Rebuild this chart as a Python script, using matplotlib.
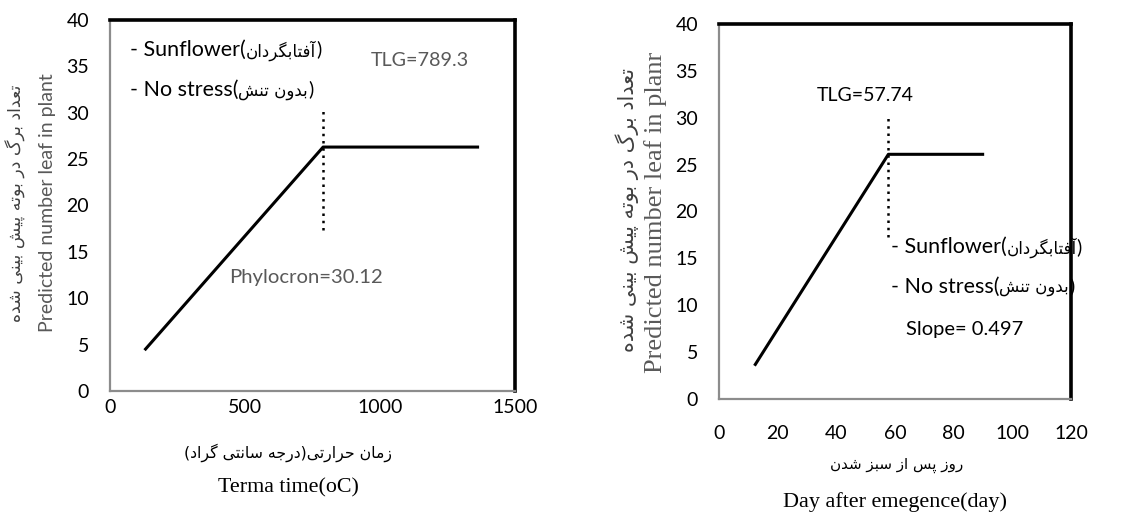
import matplotlib
matplotlib.use("Agg")
import matplotlib.pyplot as plt

# ---------------- data ----------------
thermal_time = [128, 789.3, 1367]
leaves_thermal = [4.4, 26.3, 26.3]
tlg_thermal = 789.3
marker_thermal_y = [17.4, 30.5]

days = [12.1, 57.74, 90.4]
leaves_days = [3.55, 26.1, 26.1]
tlg_days = 57.74
marker_days_y = [17.3, 30.3]

yticks = [0, 5, 10, 15, 20, 25, 30, 35, 40]
xticks_left = [0, 500, 1000, 1500]
xticks_right = [0, 20, 40, 60, 80, 100, 120]

fa_sunflower = "آفتابگردان"
fa_nostress = "بدون تنش"
fa_ylabel = "تعداد برگ در بوته پیش بینی شده"
fa_xlabel_left = "زمان حرارتی(درجه سانتی گراد)"
fa_xlabel_right = "روز پس از سبز شدن"

# ---------------- minimal Persian shaping ----------------
DUAL = {
    "ب": ("\uFE8F", "\uFE90", "\uFE91", "\uFE92"),
    "پ": ("\uFB56", "\uFB57", "\uFB58", "\uFB59"),
    "ت": ("\uFE95", "\uFE96", "\uFE97", "\uFE98"),
    "ج": ("\uFE9D", "\uFE9E", "\uFE9F", "\uFEA0"),
    "ح": ("\uFEA1", "\uFEA2", "\uFEA3", "\uFEA4"),
    "س": ("\uFEB1", "\uFEB2", "\uFEB3", "\uFEB4"),
    "ش": ("\uFEB5", "\uFEB6", "\uFEB7", "\uFEB8"),
    "ع": ("\uFEC9", "\uFECA", "\uFECB", "\uFECC"),
    "ف": ("\uFED1", "\uFED2", "\uFED3", "\uFED4"),
    "م": ("\uFEE1", "\uFEE2", "\uFEE3", "\uFEE4"),
    "ن": ("\uFEE5", "\uFEE6", "\uFEE7", "\uFEE8"),
    "ه": ("\uFEE9", "\uFEEA", "\uFEEB", "\uFEEC"),
    "گ": ("\uFB92", "\uFB93", "\uFB94", "\uFB95"),
    "ی": ("\uFBFC", "\uFBFD", "\uFBFE", "\uFBFF"),
}
RIGHT = {
    "آ": ("\uFE81", "\uFE82"),
    "ا": ("\uFE8D", "\uFE8E"),
    "د": ("\uFEA9", "\uFEAA"),
    "ر": ("\uFEAD", "\uFEAE"),
    "ز": ("\uFEAF", "\uFEB0"),
    "و": ("\uFEED", "\uFEEE"),
}


def shape(text):
    out = []
    n = len(text)
    for i, c in enumerate(text):
        prev_j = i > 0 and text[i - 1] in DUAL
        nxt = text[i + 1] if i + 1 < n else ""
        if c in DUAL:
            next_j = nxt in DUAL or nxt in RIGHT
            iso, fin, ini, med = DUAL[c]
            if prev_j and next_j:
                out.append(med)
            elif prev_j:
                out.append(fin)
            elif next_j:
                out.append(ini)
            else:
                out.append(iso)
        elif c in RIGHT:
            iso, fin = RIGHT[c]
            out.append(fin if prev_j else iso)
        else:
            out.append(c)
    vis = "".join(reversed(out))
    return vis.translate(str.maketrans("()", ")("))


# ---------------- figure ----------------
W, H = 1135, 516
fig = plt.figure(figsize=(W / 100, H / 100), dpi=100)
SANS = ["Lato", "DejaVu Sans"]
FA = ["DejaVu Sans"]
SERIF = ["Liberation Serif", "DejaVu Serif"]
GRAY = "#595959"


def fx(px):
    return px / W


def fy(py):
    return 1 - py / H


def style_axes(ax, xticks, xlim, xpad):
    ax.set_xlim(*xlim)
    ax.set_ylim(0, 40)
    ax.set_xticks(xticks)
    ax.set_yticks(yticks)
    ax.tick_params(length=0, labelsize=14, colors="black")
    ax.tick_params(axis="x", pad=xpad)
    ax.tick_params(axis="y", pad=15)
    for lab in ax.get_xticklabels() + ax.get_yticklabels():
        lab.set_family(SANS)
    for s in ("left", "bottom"):
        ax.spines[s].set_color("#8c8c8c")
        ax.spines[s].set_linewidth(1.6)
    for s in ("top", "right"):
        ax.spines[s].set_color("black")
        ax.spines[s].set_linewidth(2.6)


def legend_line(ax, x, y, latin, persian):
    t = ax.text(x, y, latin + "(", fontsize=15.5, family=SANS, va="center",
                ha="left", clip_on=False)
    t2 = ax.annotate(shape(persian), xy=(1, 0.45), xycoords=t, fontsize=12,
                     family=FA, va="center", ha="left", annotation_clip=False)
    ax.annotate(")", xy=(1, 0.55), xycoords=t2, fontsize=14, family=SANS,
                va="center", ha="left", annotation_clip=False)


# ---- left chart ----
ax1 = fig.add_axes([fx(110), fy(391), fx(515) - fx(110), fy(20) - fy(391)])
style_axes(ax1, xticks_left, (0, 1500), 6)
ax1.plot(thermal_time, leaves_thermal, color="black", lw=2.2, solid_capstyle="butt")
ax1.plot([tlg_thermal, tlg_thermal], marker_thermal_y, color="black", lw=1.8,
         linestyle=(0, (1, 1.9)))
legend_line(ax1, 74, 36.8, "- Sunflower", fa_sunflower)
legend_line(ax1, 74, 32.5, "- No stress", fa_nostress)
ax1.text(1146, 35.6, "TLG=789.3", fontsize=14.2, family=SANS, color=GRAY,
         va="center", ha="center")
ax1.text(726, 12.2, "Phylocron=30.12", fontsize=14.6, family=SANS, color=GRAY,
         va="center", ha="center")

fig.text(fx(48), fy(203), "Predicted number leaf in plant", rotation=90,
         fontsize=14, family=SANS, color=GRAY, ha="center", va="center")
fig.text(fx(16), fy(203), shape(fa_ylabel), rotation=90, fontsize=12.5,
         family=FA, color="#404040", ha="center", va="center")
fig.text(fx(288), fy(453), shape(fa_xlabel_left), fontsize=11.3, family=FA,
         color="black", ha="center", va="center")
fig.text(fx(288), fy(488), "Terma time(oC)", fontsize=15.8, family=SERIF,
         color="black", ha="center", va="center")

# ---- right chart ----
ax2 = fig.add_axes([fx(719), fy(399), fx(1071) - fx(719), fy(24) - fy(399)])
style_axes(ax2, xticks_right, (0, 120), 19)
ax2.plot(days, leaves_days, color="black", lw=2.2, solid_capstyle="butt")
ax2.plot([tlg_days, tlg_days], marker_days_y, color="black", lw=1.8,
         linestyle=(0, (1, 1.9)))
ax2.text(49.9, 32.4, "TLG=57.74", fontsize=14, family=SANS, color="black",
         va="center", ha="center")
legend_line(ax2, 58.5, 16.2, "- Sunflower", fa_sunflower)
legend_line(ax2, 58.5, 12.0, "- No stress", fa_nostress)
ax2.text(63.6, 7.36, "Slope= 0.497", fontsize=14.5, family=SANS, color="black",
         va="center", ha="left")

fig.text(fx(656), fy(212), "Predicted number leaf in planr", rotation=90,
         fontsize=19, family=SERIF, color=GRAY, ha="center", va="center")
fig.text(fx(627), fy(210), shape(fa_ylabel), rotation=90, fontsize=15,
         family=FA, color="#404040", ha="center", va="center")
fig.text(fx(897), fy(465), shape(fa_xlabel_right), fontsize=10.9, family=FA,
         color="black", ha="center", va="center")
fig.text(fx(895), fy(502), "Day after emegence(day)", fontsize=15.9, family=SERIF,
         color="black", ha="center", va="center")

fig.savefig("out.png", dpi=100, facecolor="white")
